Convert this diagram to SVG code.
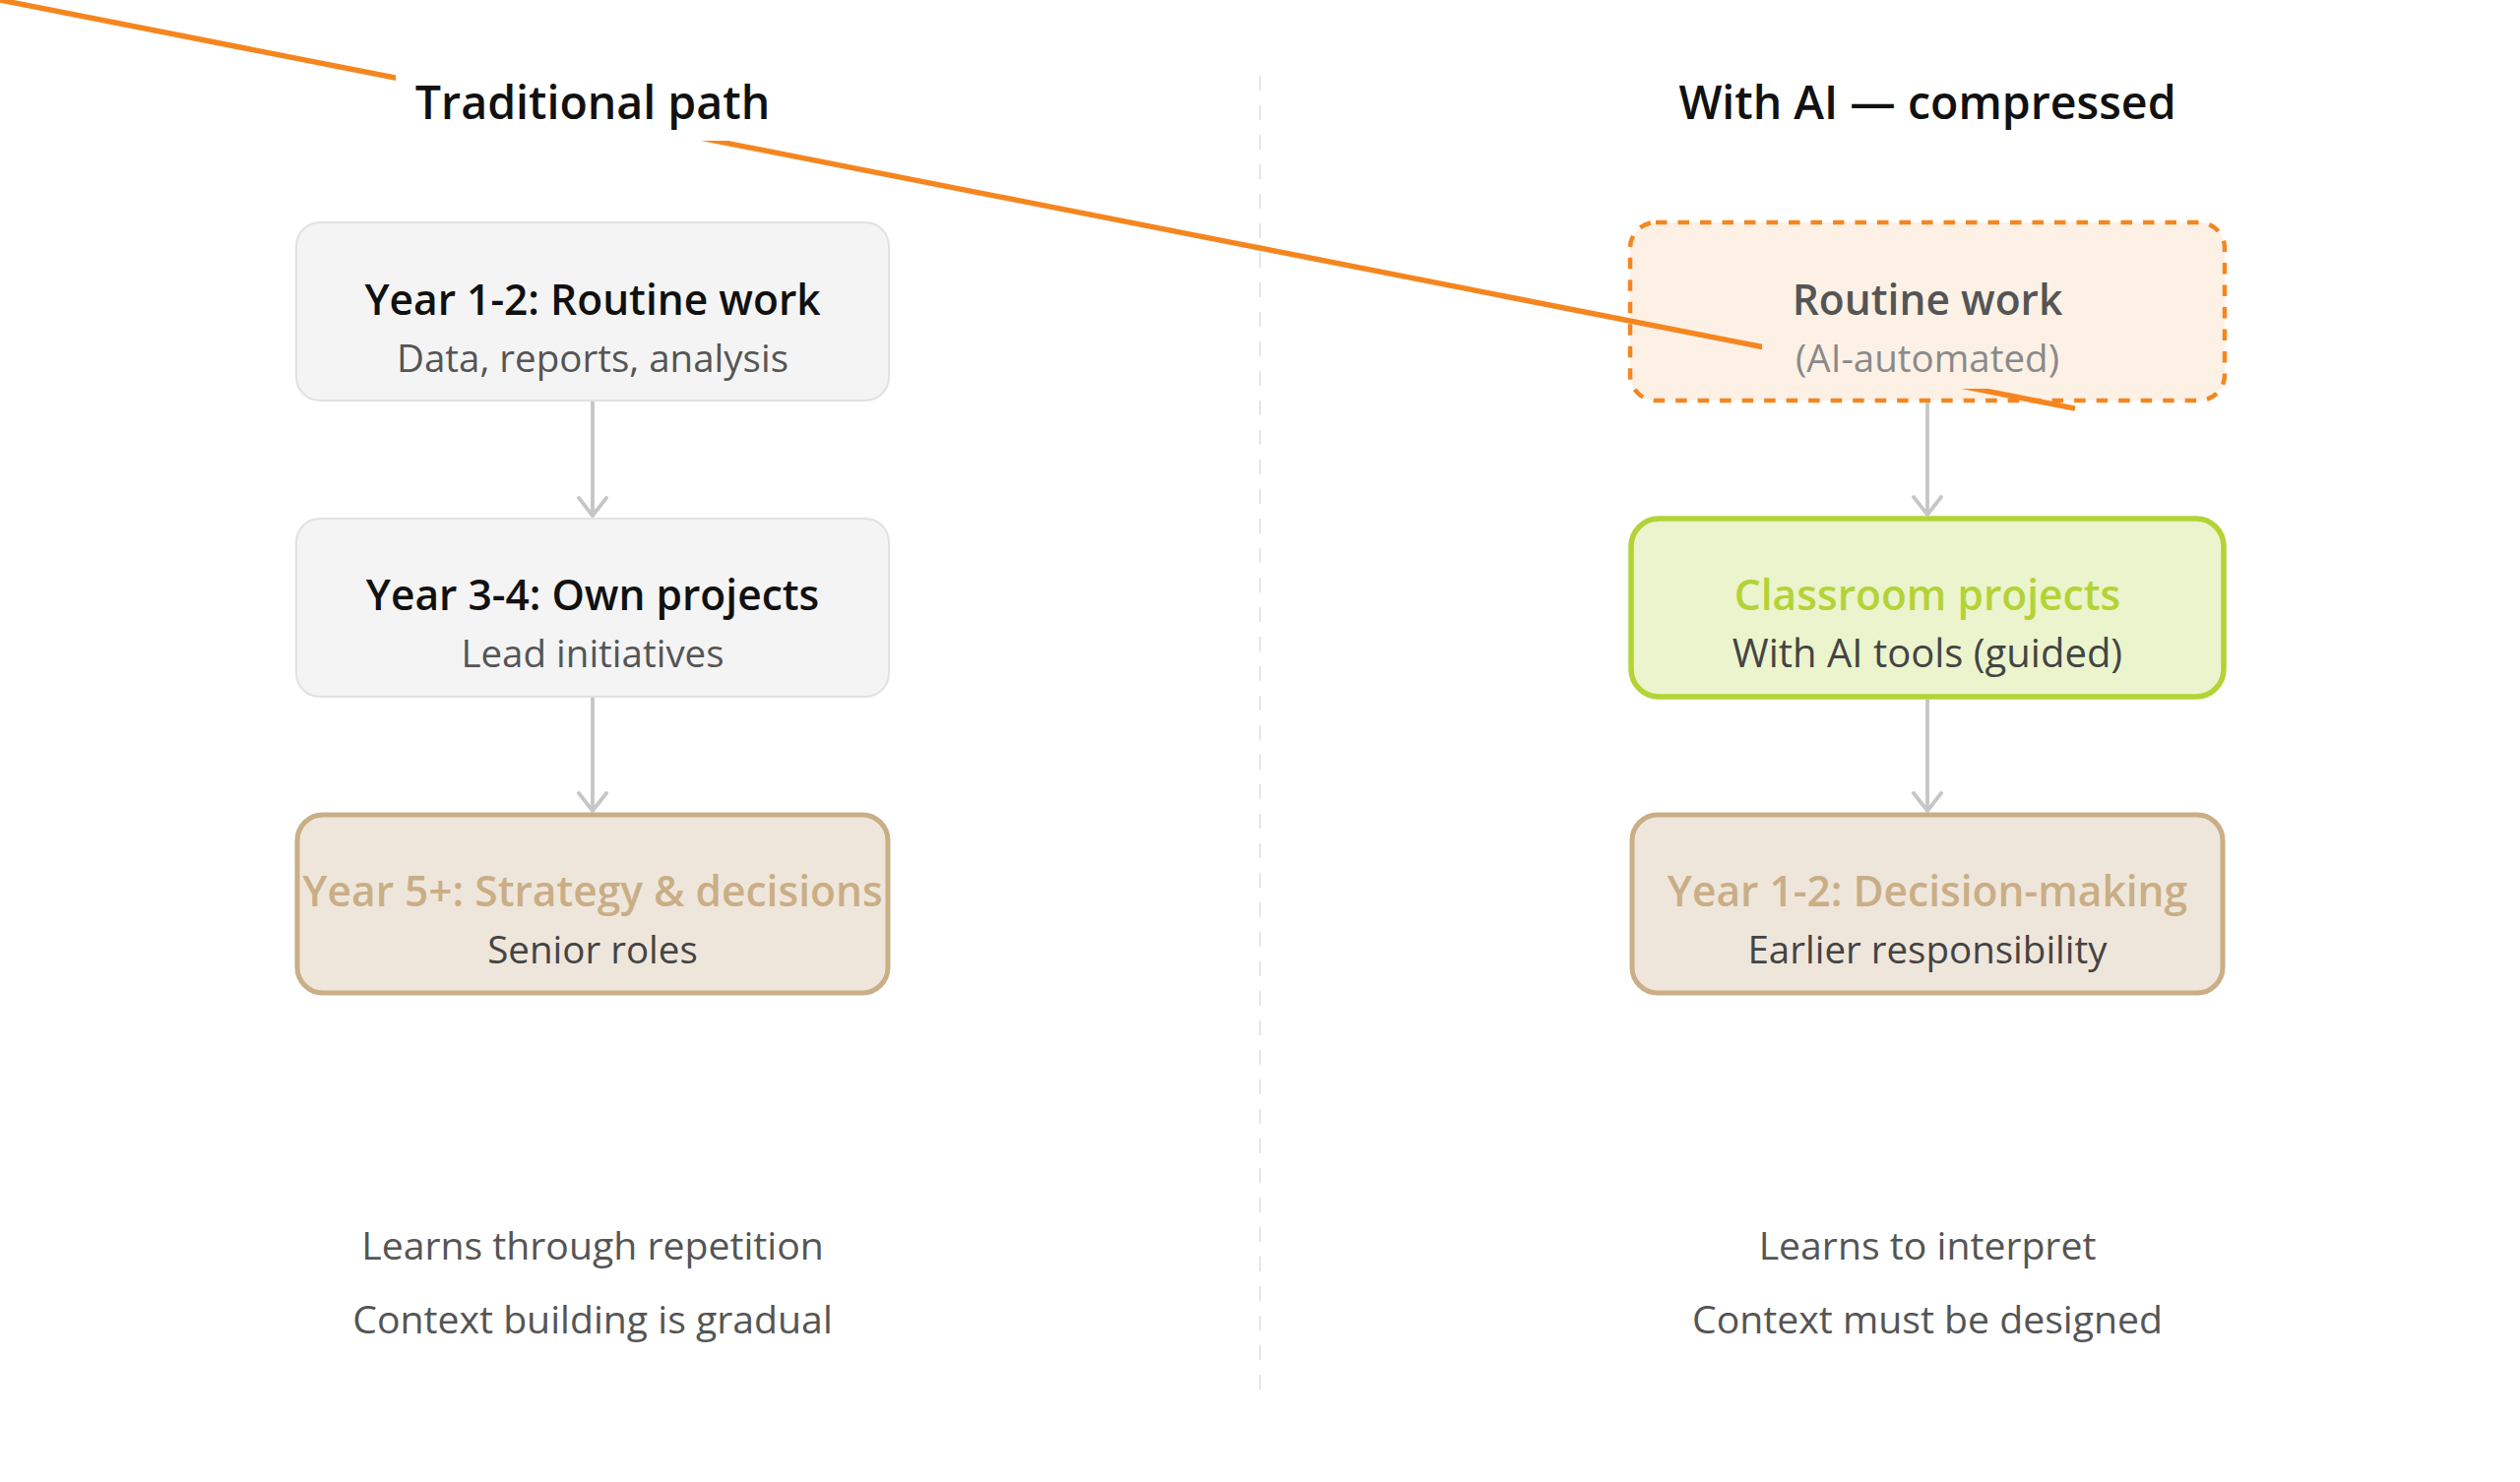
<svg xmlns="http://www.w3.org/2000/svg" width="2560" height="1506" viewBox="0 0 2560 1506">
  <style>
    text { font-family: "Open Sans", "Noto Sans", "Liberation Sans", sans-serif; text-anchor: middle; }
    .hdr { font-size: 46.5px; font-weight: 600; fill: #111111; }
    .ttl { font-size: 42.5px; font-weight: 600; }
    .sub { font-size: 38.5px; font-weight: 400; }
    .note { font-size: 39.2px; font-weight: 400; fill: #555555; }
    .plain rect { fill: #f4f4f4; stroke: #e1e1e1; stroke-width: 2; }
    .plain .ttl { fill: #111111; }
    .plain .sub { fill: #555555; }
    .tan rect { fill: #efe6db; stroke: #c9ae86; stroke-width: 5; }
    .tan .ttl { fill: #c9ae86; }
    .tan .sub { fill: #444444; }
    .auto rect { fill: #fdf1e6; stroke: #f5861f; stroke-width: 4.5; stroke-dasharray: 11.5 11; }
    .auto .ttl { fill: #555555; }
    .auto .sub { fill: #8a8a8a; }
    .green rect { fill: #ebf4cc; stroke: #b3d336; stroke-width: 5.5; }
    .green .ttl { fill: #b3d336; }
    .green .sub { fill: #444444; }
    .flow { fill: none; stroke: #c6c6c6; stroke-width: 3.8; marker-end: url(#arr); }
    .divider { stroke: #e6e6e6; stroke-width: 2; stroke-dasharray: 15 15; }
    .stray { stroke: #f5861f; stroke-width: 5.5; fill: none; }
  </style>
  <defs>
    <marker id="arr" markerUnits="userSpaceOnUse" markerWidth="24" markerHeight="32" viewBox="-3 -16 24 32" refX="18" refY="0" orient="auto">
      <path d="M0,-14 L18,0 L0,14" fill="none" stroke="#c6c6c6" stroke-width="3.8" stroke-linecap="round" stroke-linejoin="round"/>
    </marker>
    <clipPath id="strayclip">
      <path clip-rule="evenodd" d="M-50,-50 H2610 V1556 H-50 Z M402,30 H802 V143 H402 Z M1790,330 H2125 V395 H1790 Z"/>
    </clipPath>
  </defs>

  <rect x="0" y="0" width="2560" height="1506" fill="#ffffff"/>

  <line class="divider" x1="1280" y1="77" x2="1280" y2="1416"/>

  <g id="header-traditional">
    <text class="hdr" x="602" y="121">Traditional path</text>
  </g>
  <g id="header-ai">
    <text class="hdr" x="1958" y="121">With AI — compressed</text>
  </g>

  <g id="trad-routine" class="plain">
    <rect x="301" y="226" width="602" height="181" rx="24"/>
    <text class="ttl" x="602" y="320">Year 1-2: Routine work</text>
    <text class="sub" x="602" y="378">Data, reports, analysis</text>
  </g>
  <g id="trad-projects" class="plain">
    <rect x="301" y="527" width="602" height="181" rx="24"/>
    <text class="ttl" x="602" y="620">Year 3-4: Own projects</text>
    <text class="sub" x="602" y="678">Lead initiatives</text>
  </g>
  <g id="trad-strategy" class="tan">
    <rect x="302" y="828" width="600" height="181" rx="26"/>
    <text class="ttl" x="602" y="921">Year 5+: Strategy &amp; decisions</text>
    <text class="sub" x="602" y="979">Senior roles</text>
  </g>

  <g id="ai-routine" class="auto">
    <rect x="1656" y="226" width="604" height="181" rx="26"/>
    <text class="ttl" x="1958" y="320">Routine work</text>
    <text class="sub" x="1958" y="378">(AI-automated)</text>
  </g>
  <g id="ai-classroom" class="green">
    <rect x="1657" y="527" width="602" height="181" rx="28"/>
    <text class="ttl" x="1958" y="620">Classroom projects</text>
    <text class="sub" x="1958" y="678" style="font-size:40px">With AI tools (guided)</text>
  </g>
  <g id="ai-decision" class="tan">
    <rect x="1658" y="828" width="600" height="181" rx="26"/>
    <text class="ttl" x="1958" y="921">Year 1-2: Decision-making</text>
    <text class="sub" x="1958" y="979">Earlier responsibility</text>
  </g>

  <g id="notes-traditional">
    <text class="note" x="602" y="1280">Learns through repetition</text>
    <text class="note" x="602" y="1355">Context building is gradual</text>
  </g>
  <g id="notes-ai">
    <text class="note" x="1958" y="1280">Learns to interpret</text>
    <text class="note" x="1958" y="1355">Context must be designed</text>
  </g>

  <g id="connectors">
    <path class="flow" d="M602,408 L602,524"/>
    <path class="flow" d="M602,709 L602,824"/>
    <path class="flow" d="M1958,409 L1958,523"/>
    <path class="flow" d="M1958,711 L1958,824"/>
    <line class="stray" clip-path="url(#strayclip)" x1="-20" y1="-3.94" x2="2108" y2="415.1"/>
  </g>
</svg>
